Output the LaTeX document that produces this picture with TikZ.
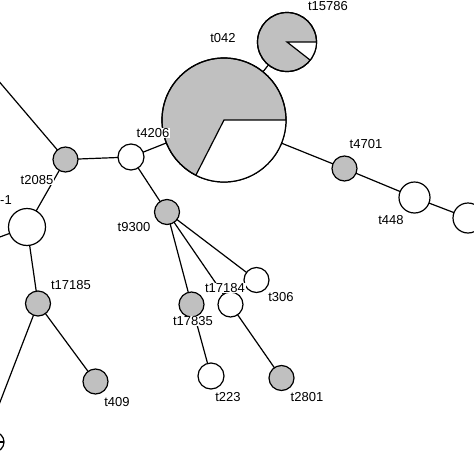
\documentclass[tikz,border=0pt]{standalone}
\usepackage{fontspec}
\setmainfont{Liberation Sans}
\begin{document}
\begin{tikzpicture}[x=1pt,y=1pt,
  hap/.style={circle,draw,line width=1.2pt,inner sep=0pt,outer sep=0pt},
  gr/.style={hap,fill=hapgray},
  wh/.style={hap,fill=white},
  edge/.style={line width=1.2pt},
  lab/.style={fill=white,inner sep=0.8pt,font=\fontsize{13}{15}\selectfont}]
\definecolor{hapgray}{RGB}{192,192,192}
\useasboundingbox (0,0) rectangle (474,-474);
\clip (0,0) rectangle (474,-474);
\fill[white] (0,0) rectangle (474,-474);
% nodes
\node[gr,minimum size=124pt] (t042) at (224,-120) {};
\node[gr,minimum size=59pt] (t15786) at (287,-42) {};
\node[wh,minimum size=26pt] (t4206) at (131,-157) {};
\node[gr,minimum size=25pt] (t2085) at (65.5,-159.5) {};
\node[wh,minimum size=37pt] (L) at (27,-227) {};
\node[gr,minimum size=25pt] (t17185) at (38,-303.5) {};
\node[gr,minimum size=25pt] (t409) at (95.5,-381.5) {};
\node[gr,minimum size=25pt] (t9300) at (167,-212) {};
\node[wh,minimum size=25pt] (t306) at (256.5,-280) {};
\node[wh,minimum size=25pt] (t17184) at (230.5,-304.5) {};
\node[gr,minimum size=25pt] (t17835) at (191.5,-304.5) {};
\node[wh,minimum size=26pt] (t223) at (211,-376) {};
\node[gr,minimum size=25pt] (t2801) at (281.5,-378) {};
\node[gr,minimum size=25pt] (t4701) at (344.5,-168.5) {};
\node[wh,minimum size=31pt] (t448) at (414.5,-197.5) {};
\node[wh,minimum size=30pt] (R) at (468,-218) {};
\node[wh,minimum size=20pt] (B) at (-6,-442) {};
% pie wedges
\fill[white] (t042.center) -- (t042.east) arc[start angle=0,end angle=-117,radius=62pt] -- cycle;
\draw[edge] (t042.east) -- (t042.center) -- (t042.-117);
\draw[line width=1.2pt] (t042.center) circle[radius=62pt];
\fill[white] (t15786.center) -- (t15786.east) arc[start angle=0,end angle=-38,radius=29.5pt] -- cycle;
\draw[edge] (t15786.east) -- (t15786.center) -- (t15786.-38);
\draw[line width=1.2pt] (t15786.center) circle[radius=29.5pt];
\draw[edge] (B.center) -- (B.east);
% off-picture ends
\coordinate (UL) at (-32,-45);
\coordinate (LL) at (-30,-248);
\coordinate (DL) at (-10,-428);
% edges
\draw[edge] (t15786) -- (t042);
\draw[edge] (t4206) -- (t042);
\draw[edge] (t042) -- (t4701);
\draw[edge] (t4701) -- (t448);
\draw[edge] (t448) -- (R);
\draw[edge] (t2085) -- (t4206);
\draw[edge] (t2085) -- (UL);
\draw[edge] (L) -- (t2085);
\draw[edge] (L) -- (LL);
\draw[edge] (L) -- (t17185);
\draw[edge] (t17185) -- (t409);
\draw[edge] (t17185) -- (DL);
\draw[edge] (t4206) -- (t9300);
\draw[edge] (t9300) -- (t17835);
\draw[edge] (t9300) -- (t17184);
\draw[edge] (t9300) -- (t306);
\draw[edge] (t17835) -- (t223);
\draw[edge] (t17184) -- (t2801);
% labels
\node[lab] (l042) at (223,-38.5) {t042};
\node[lab] (l15786) at (328,-6.5) {t15786};
\node[lab] (l4206) at (153,-133) {t4206};
\node[lab] (l2085) at (37,-180) {t2085};
\node[lab,anchor=west,inner sep=0pt] (lL) at (0,-200) {-1};
\node[lab] (l17185) at (71,-285) {t17185};
\node[lab] (l409) at (117,-402) {t409};
\node[lab] (l9300) at (134,-227) {t9300};
\node[lab] (l306) at (281,-297) {t306};
\node[lab] (l17184) at (225,-288) {t17184};
\node[lab] (l17835) at (193,-321) {t17835};
\node[lab] (l223) at (228,-397) {t223};
\node[lab] (l2801) at (307,-397) {t2801};
\node[lab] (l4701) at (366,-144) {t4701};
\node[lab] (l448) at (391,-220) {t448};
\end{tikzpicture}
\end{document}
